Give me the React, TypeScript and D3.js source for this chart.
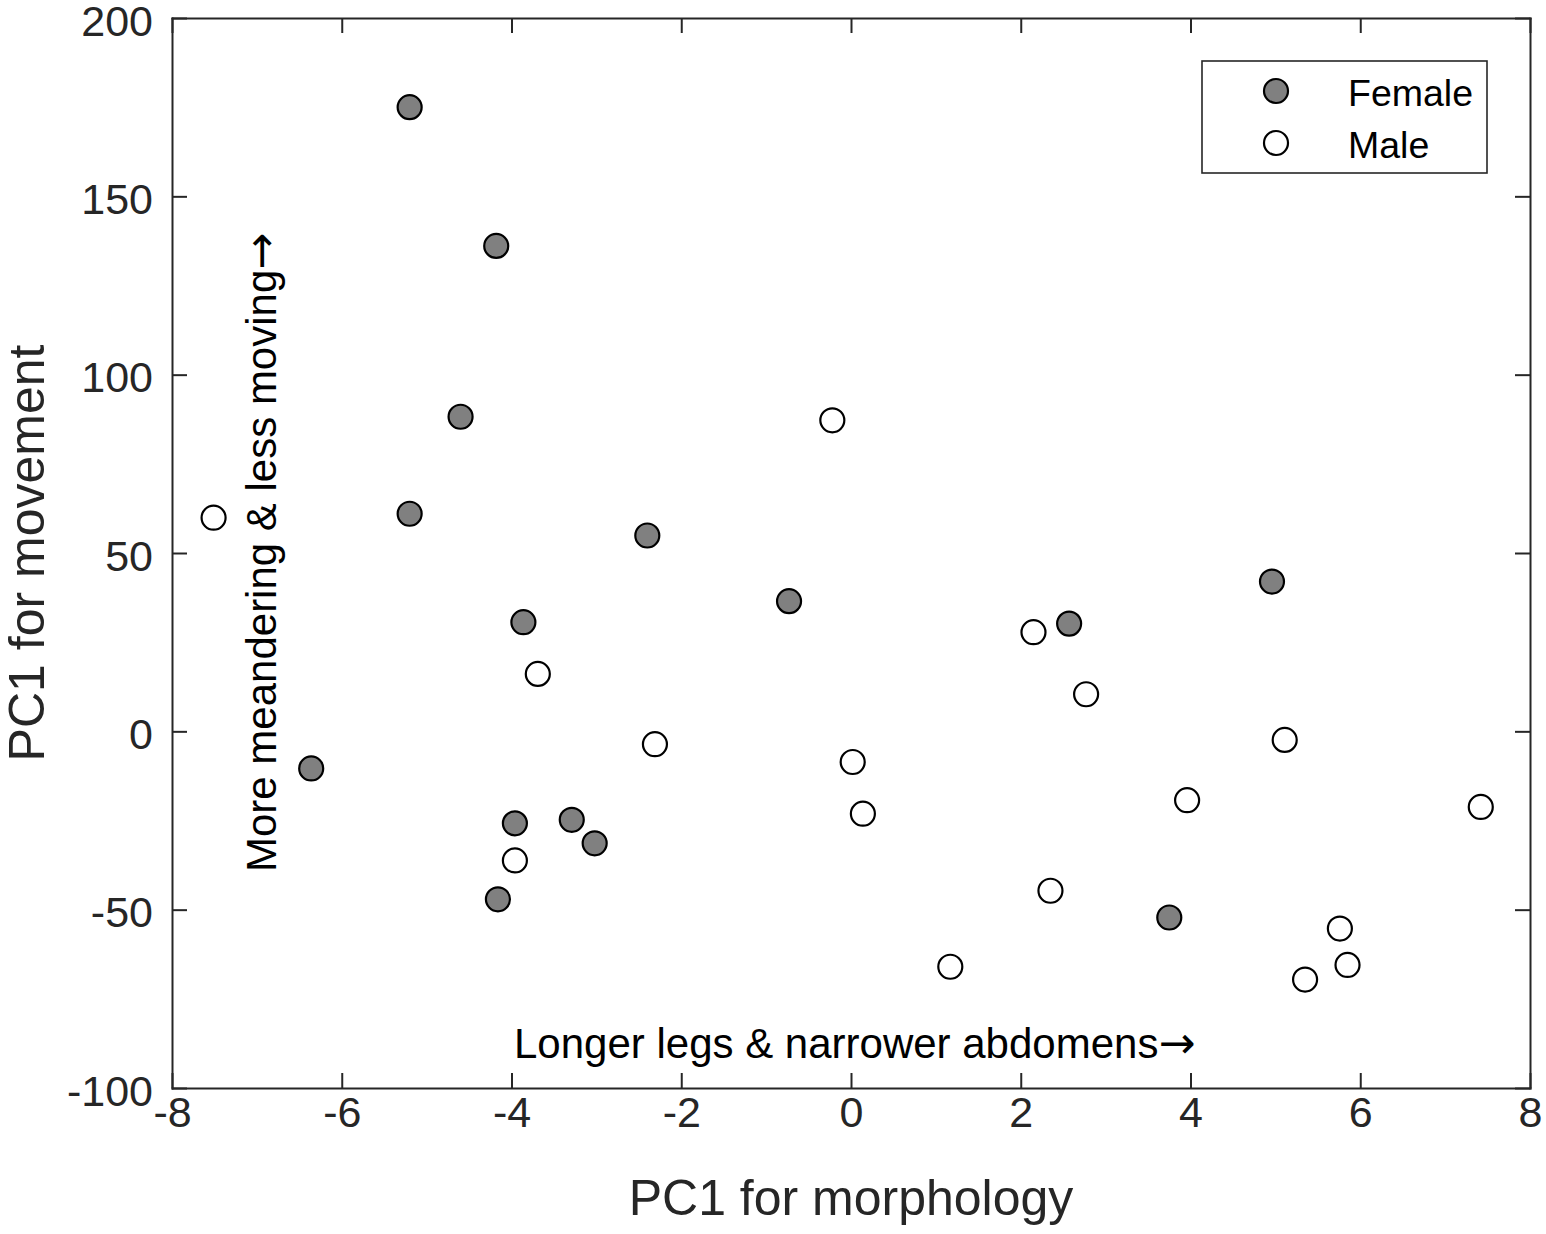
import * as d3 from 'd3';
import React, { useEffect, useRef } from 'react';

// PC1 scores
const femaleMorph = [-5.2, -4.18, -4.6, -5.2, -2.4, -0.73, -3.86, -6.36, -3.96, -3.29, -3.02, -4.16, 2.57, 4.96, 3.75];
const femaleMove = [175.0, 136.1, 88.2, 61.0, 54.9, 36.5, 30.6, -10.4, -25.8, -24.8, -31.4, -47.1, 30.2, 42.0, -52.2];

const maleMorph = [-7.51, -0.22, -3.69, -2.31, -3.96, 0.02, 0.14, 1.17, 2.15, 2.77, 2.35, 3.96, 5.11, 7.42, 5.76, 5.85, 5.35];
const maleMove = [59.9, 87.2, 16.1, -3.6, -36.2, -8.6, -23.1, -66.0, 27.8, 10.4, -44.7, -19.3, -2.4, -21.2, -55.3, -65.5, -69.6];

const xTicks = [-8, -6, -4, -2, 0, 2, 4, 6, 8];
const yTicks = [-100, -50, 0, 50, 100, 150, 200];

const seriesNames = ['Female', 'Male'];
const seriesFills = ['#808080', '#ffffff'];

const W = 1546;
const H = 1234;
const margin = { left: 172, right: 16, top: 18, bottom: 146 };
const FONT = '"Liberation Sans", Arial, Helvetica, sans-serif';
const ARROW_FONT = '"DejaVu Sans", sans-serif';
const AXIS = '#262626';

const App: React.FC = () => {
  const ref = useRef<SVGSVGElement>(null);

  useEffect(() => {
    const svg = d3.select(ref.current);
    svg.selectAll('*').remove();

    const x = d3.scaleLinear().domain([-8, 8]).range([margin.left, W - margin.right]);
    const y = d3.scaleLinear().domain([-100, 200]).range([H - margin.bottom, margin.top]);

    const x0 = x.range()[0];
    const x1 = x.range()[1];
    const y0 = y.range()[0];
    const y1 = y.range()[1];

    const styleAxis = (g: d3.Selection<SVGGElement, unknown, null, undefined>) => {
      g.selectAll('path, line').attr('stroke', AXIS).attr('stroke-width', 2);
      g.selectAll('text').attr('fill', AXIS).attr('font-size', 43).attr('font-family', FONT);
    };

    // bottom axis with labels
    svg
      .append('g')
      .attr('transform', `translate(0,${y0})`)
      .call(
        d3.axisBottom(x).tickValues(xTicks).tickSizeInner(-15).tickSizeOuter(0).tickPadding(8)
          .tickFormat(d => String(d))
      )
      .call(styleAxis);

    // top axis, ticks only
    svg
      .append('g')
      .attr('transform', `translate(0,${y1})`)
      .call(d3.axisTop(x).tickValues(xTicks).tickSizeInner(-15).tickSizeOuter(0).tickFormat(() => ''))
      .call(styleAxis);

    // left axis with labels
    svg
      .append('g')
      .attr('transform', `translate(${x0},0)`)
      .call(
        d3.axisLeft(y).tickValues(yTicks).tickSizeInner(-15).tickSizeOuter(0).tickPadding(19)
          .tickFormat(d => String(d))
      )
      .call(styleAxis)
      .call(g => g.selectAll('text').attr('dy', '0.4em'));

    // right axis, ticks only
    svg
      .append('g')
      .attr('transform', `translate(${x1},0)`)
      .call(d3.axisRight(y).tickValues(yTicks).tickSizeInner(-15).tickSizeOuter(0).tickFormat(() => ''))
      .call(styleAxis);

    svg.selectAll('.domain').attr('stroke-linecap', 'square');

    // axis titles
    svg
      .append('text')
      .attr('x', (x0 + x1) / 2)
      .attr('y', 1215)
      .attr('text-anchor', 'middle')
      .attr('font-family', FONT)
      .attr('font-size', 50)
      .attr('fill', AXIS)
      .text('PC1 for morphology');

    svg
      .append('text')
      .attr('transform', `translate(44,${(y0 + y1) / 2}) rotate(-90)`)
      .attr('text-anchor', 'middle')
      .attr('font-family', FONT)
      .attr('font-size', 50)
      .attr('fill', AXIS)
      .text('PC1 for movement');

    // in-plot annotations
    const note = (sel: d3.Selection<SVGTextElement, unknown, null, undefined>, label: string) => {
      sel.attr('font-family', FONT).attr('font-size', 42).attr('fill', '#000');
      sel.append('tspan').text(label);
      sel.append('tspan').attr('font-family', ARROW_FONT).attr('font-size', 44).text('→');
    };

    svg
      .append('text')
      .attr('x', 514)
      .attr('y', 1058)
      .call(note, 'Longer legs & narrower abdomens');

    svg
      .append('text')
      .attr('transform', 'translate(276,872) rotate(-90)')
      .call(note, 'More meandering & less moving');

    // points
    const series = [
      { xs: femaleMorph, ys: femaleMove, fill: seriesFills[0] },
      { xs: maleMorph, ys: maleMove, fill: seriesFills[1] },
    ];
    series.forEach(s => {
      svg
        .append('g')
        .selectAll('circle')
        .data(s.xs.map((v, i) => [v, s.ys[i]]))
        .join('circle')
        .attr('cx', d => x(d[0]))
        .attr('cy', d => y(d[1]))
        .attr('r', 12)
        .attr('fill', s.fill)
        .attr('stroke', '#000')
        .attr('stroke-width', 2.2);
    });

    // legend
    const legend = svg.append('g').attr('transform', 'translate(1202,61)');
    legend
      .append('rect')
      .attr('width', 285)
      .attr('height', 112)
      .attr('fill', '#fff')
      .attr('stroke', AXIS)
      .attr('stroke-width', 1.6);

    seriesNames.forEach((name, i) => {
      const row = legend.append('g').attr('transform', `translate(0,${30 + i * 52})`);
      row
        .append('circle')
        .attr('cx', 74)
        .attr('cy', 0)
        .attr('r', 12)
        .attr('fill', seriesFills[i])
        .attr('stroke', '#000')
        .attr('stroke-width', 2.2);
      row
        .append('text')
        .attr('x', 146)
        .attr('y', 15)
        .attr('font-family', FONT)
        .attr('font-size', 37.5)
        .attr('fill', '#000')
        .text(name);
    });
  }, []);

  return (
    <svg
      ref={ref}
      width={W}
      height={H}
      viewBox={`0 0 ${W} ${H}`}
      style={{ position: 'absolute', left: 0, top: 0, background: '#fff' }}
    />
  );
};

export default App;
